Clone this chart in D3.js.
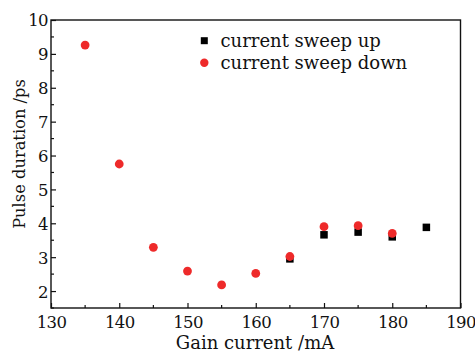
<!DOCTYPE html>
<html>
<head>
<meta charset="utf-8">
<script src="https://d3js.org/d3.v7.min.js"></script>
<style>
  html, body { margin: 0; padding: 0; background: #fff; }
  svg { display: block; }
  text { font-family: "DejaVu Serif", serif; fill: #111; }
</style>
</head>
<body>
<svg id="chart" width="475" height="352"></svg>
<script>
// Gain current (mA) and pulse duration (ps)
const upCurrent = [165, 170, 175, 180, 185];
const upDuration = [2.95, 3.66, 3.74, 3.6, 3.88];
const downCurrent = [135, 140, 145, 150, 155, 160, 165, 170, 175, 180];
const downDuration = [9.26, 5.75, 3.29, 2.59, 2.18, 2.52, 3.02, 3.9, 3.93, 3.7];
const xTicks = [130, 140, 150, 160, 170, 180, 190];
const yTicks = [2, 3, 4, 5, 6, 7, 8, 9, 10];
const legendLabels = ["current sweep up", "current sweep down"];

const svg = d3.select("#chart");
const margin = { left: 51, right: 14.5, top: 20, bottom: 44 };
const W = 475, H = 352;

const x = d3.scaleLinear().domain([130, 190]).range([margin.left, W - margin.right]);
const y = d3.scaleLinear().domain([1.5, 10]).range([H - margin.bottom, margin.top]);

const tickFont = 16.5;
const titleFont = 18;
const red = "#ee2a2a";

// inward ticks: major and minor
const xMinor = d3.range(135, 190, 10);
const yMinor = d3.range(1.5, 10, 1);

const gx = svg.append("g").attr("transform", `translate(0,${y.range()[0]})`);
gx.call(d3.axisBottom(x).tickValues(xTicks).tickSizeInner(-5).tickSizeOuter(0).tickFormat(d3.format("d")));
gx.call(g => g.select(".domain").remove());
gx.selectAll(".tick line").attr("stroke", "#111").attr("stroke-width", 1.2);
gx.selectAll("text").style("font-size", tickFont + "px").style("letter-spacing", "-0.6px")
  .attr("y", 19.5).attr("dy", 0);
gx.append("g").selectAll("line").data(xMinor).join("line")
  .attr("x1", d => x(d)).attr("x2", d => x(d)).attr("y1", 0).attr("y2", -3)
  .attr("stroke", "#111").attr("stroke-width", 1.2);

const gy = svg.append("g").attr("transform", `translate(${x.range()[0]},0)`);
gy.call(d3.axisLeft(y).tickValues(yTicks).tickSizeInner(-5).tickSizeOuter(0).tickFormat(d3.format("d")));
gy.call(g => g.select(".domain").remove());
gy.selectAll(".tick line").attr("stroke", "#111").attr("stroke-width", 1.2);
gy.selectAll("text").style("font-size", tickFont + "px").style("letter-spacing", "-0.6px")
  .attr("x", -3).attr("dy", "0.36em");
gy.append("g").selectAll("line").data(yMinor).join("line")
  .attr("y1", d => y(d)).attr("y2", d => y(d)).attr("x1", 0).attr("x2", 3)
  .attr("stroke", "#111").attr("stroke-width", 1.2);

// frame
svg.append("rect")
  .attr("x", x.range()[0]).attr("y", y.range()[1])
  .attr("width", x.range()[1] - x.range()[0]).attr("height", y.range()[0] - y.range()[1])
  .attr("fill", "none").attr("stroke", "#111").attr("stroke-width", 1.4);

// data: squares first, circles drawn on top
const sq = 7.5;
svg.append("g").selectAll("rect").data(upCurrent).join("rect")
  .attr("x", (d, i) => x(d) - sq / 2).attr("y", (d, i) => y(upDuration[i]) - sq / 2)
  .attr("width", sq).attr("height", sq).attr("fill", "#000");

svg.append("g").selectAll("circle").data(downCurrent).join("circle")
  .attr("cx", d => x(d)).attr("cy", (d, i) => y(downDuration[i]))
  .attr("r", 4.4).attr("fill", red);

// axis titles
svg.append("text").attr("x", 255).attr("y", 348.5)
  .attr("text-anchor", "middle").style("font-size", titleFont + "px").text("Gain current /mA");
svg.append("text").attr("transform", "translate(25,154) rotate(-90)")
  .attr("text-anchor", "middle").style("font-size", "16.3px").text("Pulse duration /ps");

// legend
const lg = svg.append("g");
lg.append("rect").attr("x", 204.3 - 3.5).attr("y", 40.7 - 3.5).attr("width", 7).attr("height", 7).attr("fill", "#000");
lg.append("circle").attr("cx", 204.3).attr("cy", 62.7).attr("r", 4.2).attr("fill", red);
lg.selectAll("text").data(legendLabels).join("text")
  .attr("x", 220.5).attr("y", (d, i) => 46.5 + i * 22)
  .style("font-size", titleFont + "px").text(d => d);
</script>
</body>
</html>
